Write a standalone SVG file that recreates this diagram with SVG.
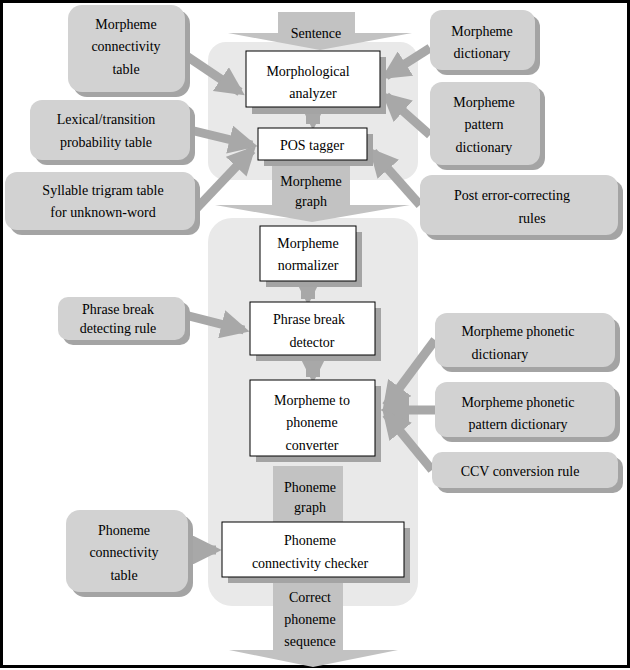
<svg xmlns="http://www.w3.org/2000/svg" width="630" height="670" viewBox="0 0 630 670" font-family="'Liberation Serif', 'DejaVu Serif', serif" font-size="14">
<defs>
<style>
text{font-family:'Liberation Serif','DejaVu Serif',serif;font-size:14px;fill:#000;text-anchor:middle}
.g{fill:#d2d2d2}.s{fill:#a4a4a4}.w{fill:#fff;stroke:#000;stroke-width:1}
.bg{fill:#e9e9e9}.big{fill:#c2c2c2}
.c{stroke:#a8a8a8;stroke-width:9;fill:none}
.v{stroke:#a8a8a8;stroke-width:14;fill:none}
</style>
<marker id="ah" viewBox="0 0 10 10" refX="8" refY="5" markerWidth="3.2" markerHeight="3.2" orient="auto" markerUnits="strokeWidth"><path d="M0,0L10,5L0,10z" fill="#a8a8a8"/></marker>
<marker id="av" viewBox="0 0 10 10" refX="8" refY="5" markerWidth="2.2" markerHeight="2.2" orient="auto" markerUnits="strokeWidth"><path d="M0,0L10,5L0,10z" fill="#a8a8a8"/></marker>
</defs>
<rect x="1.5" y="1.5" width="627" height="665" fill="#fff" stroke="#000" stroke-width="3"/>
<rect class="bg" x="208" y="42" width="210" height="138" rx="18"/>
<rect class="bg" x="208" y="218" width="210" height="388" rx="24"/>
<g id="bigarrows">
<path class="big" d="M278,12H355V33H412L320,50L228,33H278Z"/>
<path class="big" d="M272,165H350V205H410L312,222L215,205H272Z"/>
<path class="big" d="M273,466H343V522H398L313,540L229,522H273Z"/>
<path class="big" d="M273,578H343V650H398L313,667L229,650H273Z"/>
<text x="316" y="38">Sentence</text>
<text x="311" y="186">Morpheme</text><text x="311" y="206">graph</text>
<text x="310" y="492">Phoneme</text><text x="310" y="512">graph</text>
<text x="310" y="602">Correct</text><text x="310" y="624">phoneme</text><text x="310" y="646">sequence</text>
</g>
<g id="connectors">
<path class="c" d="M185,55L240,92" marker-end="url(#ah)"/>
<path class="c" d="M430,48L386,76" marker-end="url(#ah)"/>
<path class="c" d="M430,135L386,96" marker-end="url(#ah)"/>
<path class="c" d="M190,130L252,145" marker-end="url(#ah)"/>
<path class="c" d="M195,210L252,150" marker-end="url(#ah)"/>
<path class="c" d="M420,205L373,152" marker-end="url(#ah)"/>
<path class="c" d="M185,315L244,330" marker-end="url(#ah)"/>
<path class="c" d="M435,340L386,406" marker-end="url(#ah)"/>
<path class="c" d="M435,410L386,410" marker-end="url(#ah)"/>
<path class="c" d="M432,470L386,414" marker-end="url(#ah)"/>
<path class="c" d="M188,550L216,550" marker-end="url(#ah)"/>
<path class="v" d="M313,108V124" marker-end="url(#av)"/>
<path class="v" d="M308,282V299" marker-end="url(#av)"/>
<path class="v" d="M313,356V377" marker-end="url(#av)"/>
</g>
<g id="n_mct"><rect class="s" x="73" y="10" width="117" height="87" rx="14"/><rect class="g" x="68" y="5" width="117" height="87" rx="14"/><text x="126" y="29">Morpheme</text><text x="126" y="51">connectivity</text><text x="126" y="74">table</text></g>
<g id="n_md"><rect class="s" x="435" y="15" width="105" height="60" rx="12"/><rect class="g" x="430" y="10" width="105" height="60" rx="12"/><text x="482" y="36">Morpheme</text><text x="482" y="58">dictionary</text></g>
<g id="n_mpd"><rect class="s" x="435" y="87" width="110" height="83" rx="12"/><rect class="g" x="430" y="82" width="110" height="83" rx="12"/><text x="484" y="107">Morpheme</text><text x="484" y="129">pattern</text><text x="484" y="152">dictionary</text></g>
<g id="n_lex"><rect class="s" x="35" y="105" width="160" height="60" rx="12"/><rect class="g" x="30" y="100" width="160" height="60" rx="12"/><text x="106" y="124">Lexical/transition</text><text x="106" y="147">probability table</text></g>
<g id="n_syl"><rect class="s" x="10" y="177" width="190" height="58" rx="12"/><rect class="g" x="5" y="172" width="190" height="58" rx="12"/><text x="103" y="195">Syllable  trigram  table</text><text x="103" y="217">for unknown-word</text></g>
<g id="n_post"><rect class="s" x="425" y="180" width="198" height="60" rx="12"/><rect class="g" x="420" y="175" width="198" height="60" rx="12"/><text x="512" y="200">Post error-correcting</text><text x="532" y="223">rules</text></g>
<g id="n_pbr"><rect class="s" x="63" y="302" width="127" height="43" rx="10"/><rect class="g" x="58" y="297" width="127" height="43" rx="10"/><text x="118" y="314">Phrase break</text><text x="118" y="333">detecting rule</text></g>
<g id="n_mphd"><rect class="s" x="440" y="318" width="180" height="54" rx="12"/><rect class="g" x="435" y="313" width="180" height="54" rx="12"/><text x="518" y="336">Morpheme phonetic</text><text x="500" y="359">dictionary</text></g>
<g id="n_mphp"><rect class="s" x="440" y="387" width="180" height="55" rx="12"/><rect class="g" x="435" y="382" width="180" height="55" rx="12"/><text x="518" y="407">Morpheme phonetic</text><text x="518" y="429">pattern dictionary</text></g>
<g id="n_ccv"><rect class="s" x="437" y="457" width="186" height="36" rx="10"/><rect class="g" x="432" y="452" width="186" height="36" rx="10"/><text x="520" y="476">CCV conversion rule</text></g>
<g id="n_pct"><rect class="s" x="71" y="515" width="122" height="82" rx="14"/><rect class="g" x="66" y="510" width="122" height="82" rx="14"/><text x="124" y="535">Phoneme</text><text x="124" y="557">connectivity</text><text x="124" y="580">table</text></g>
<g id="n_ma"><rect class="s" x="252" y="57" width="134" height="57"/><rect class="w" x="246" y="51" width="134" height="56"/><text x="308" y="76">Morphological</text><text x="313" y="98">analyzer</text></g>
<g id="n_pos"><rect class="s" x="264" y="134" width="109" height="32"/><rect class="w" x="258" y="128" width="109" height="32"/><text x="312" y="150">POS tagger</text></g>
<g id="n_mn"><rect class="s" x="266" y="232" width="96" height="55"/><rect class="w" x="260" y="226" width="96" height="55"/><text x="308" y="248">Morpheme</text><text x="308" y="270">normalizer</text></g>
<g id="n_pbd"><rect class="s" x="256" y="308" width="125" height="53"/><rect class="w" x="250" y="302" width="125" height="53"/><text x="309" y="324">Phrase break</text><text x="312" y="347">detector</text></g>
<g id="n_mpc"><rect class="s" x="256" y="386" width="125" height="76"/><rect class="w" x="250" y="380" width="125" height="76"/><text x="312" y="405">Morpheme to</text><text x="312" y="427">phoneme</text><text x="312" y="450">converter</text></g>
<g id="n_pcc"><rect class="s" x="228" y="528" width="182" height="55"/><rect class="w" x="222" y="522" width="182" height="55"/><text x="310" y="545">Phoneme</text><text x="310" y="568">connectivity checker</text></g>
</svg>
